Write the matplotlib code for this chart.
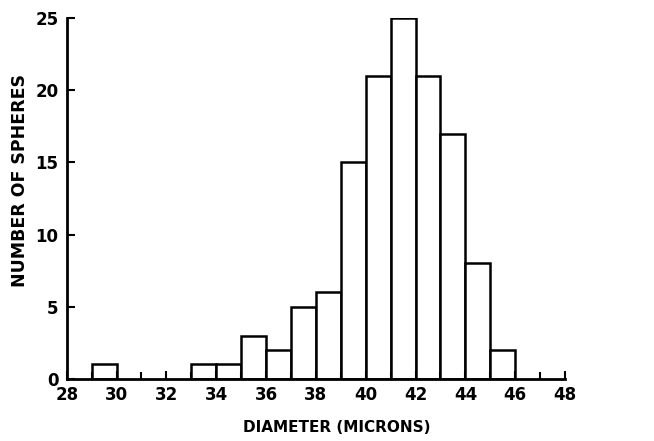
import matplotlib
matplotlib.use("Agg")
import matplotlib.pyplot as plt
import numpy as np

bin_left = [29, 33, 34, 35, 36, 37, 38, 39, 40, 41, 42, 43, 44, 45]
counts = [1, 1, 1, 3, 2, 5, 6, 15, 21, 25, 21, 17, 8, 2]
x_ticks = [28, 30, 32, 34, 36, 38, 40, 42, 44, 46, 48]
y_ticks = [0, 5, 10, 15, 20, 25]

plt.rcParams['font.family'] = ['DejaVu Sans']
fig = plt.figure(figsize=(6.54, 4.41), dpi=100)
ax = fig.add_axes([0.102, 0.141, 0.762, 0.818])
ax.bar(bin_left, counts, width=1, align='edge', facecolor='white',
       edgecolor='black', linewidth=1.8)
ax.set_xlim(28, 48)
ax.set_ylim(0, 25)
for s in ['top', 'right']:
    ax.spines[s].set_visible(False)
for s in ['left', 'bottom']:
    ax.spines[s].set_linewidth(2)
ax.set_xticks(x_ticks)
ax.set_xticks(np.arange(28, 49, 1), minor=True)
ax.set_yticks(y_ticks)
ax.tick_params(axis='both', direction='in', width=1.5, length=6, labelsize=12)
ax.tick_params(axis='x', pad=5)
ax.tick_params(axis='y', pad=6)
ax.tick_params(axis='x', which='minor', direction='in', width=1.5, length=5)
for lab in ax.get_xticklabels() + ax.get_yticklabels():
    lab.set_fontweight('bold')
ax.set_xlabel('DIAMETER (MICRONS)', fontsize=11, fontweight='bold')
ax.xaxis.set_label_coords(0.542, -0.114)
ax.set_ylabel('NUMBER OF SPHERES', fontsize=12.5, fontweight='bold')
ax.yaxis.set_label_coords(-0.075, 0.55)
fig.savefig('out.png', dpi=100)
